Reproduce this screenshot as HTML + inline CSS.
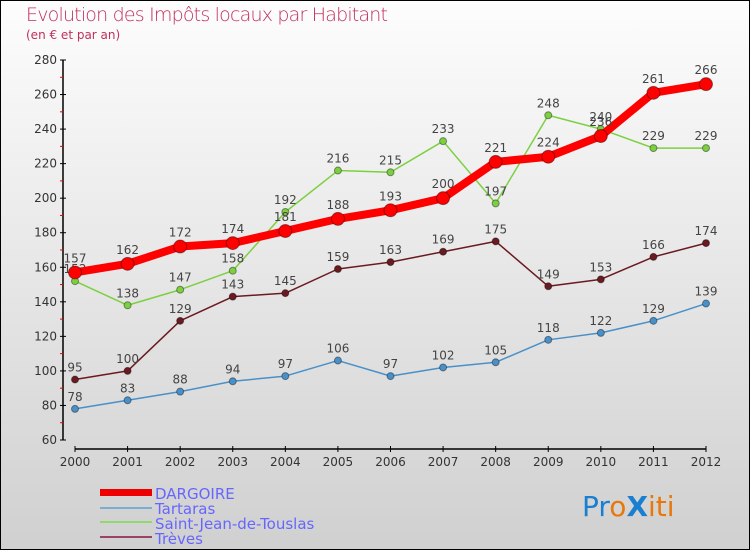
<!DOCTYPE html>
<html><head><meta charset="utf-8"><style>
body{margin:0}
#c{width:750px;height:550px;position:relative;background:linear-gradient(#fdfdfd,#d0d0d0);border:1px solid #000;box-sizing:border-box;overflow:hidden;font-family:"DejaVu Sans","Liberation Sans",sans-serif}
</style></head><body>
<div id="c">
<svg id="s" width="750" height="550" style="position:absolute;left:-1px;top:-1px">
<text x="26" y="21" font-size="19" fill="#c0305a" font-family="DejaVu Sans" font-weight="200" textLength="362">Evolution des Impôts locaux par Habitant</text>
<text x="26" y="39" font-size="12" fill="#c0305a">(en € et par an)</text>
<g id="g"></g>
<g>
<rect x="100" y="489" width="52" height="7" fill="#e00"/>
<text x="155" y="499" font-size="15" fill="#66f">DARGOIRE</text>
<rect x="100" y="507" width="52" height="2" fill="#7aaed0"/>
<text x="155" y="514" font-size="15" fill="#66f">Tartaras</text>
<rect x="100" y="521" width="52" height="2" fill="#90d870"/>
<text x="155" y="529" font-size="15" fill="#66f">Saint-Jean-de-Touslas</text>
<rect x="100" y="536" width="52" height="2" fill="#946"/>
<text x="155" y="544" font-size="15" fill="#66f">Trèves</text>
</g>
<g font-size="28" font-family="DejaVu Sans">
<text x="582" y="516"><tspan fill="#1a7fd0">Pr</tspan><tspan fill="#e8780a">o</tspan><tspan fill="#1a7fd0" font-weight="bold">X</tspan><tspan fill="#e8780a">iti</tspan></text>
</g>
</svg>
</div>
<script>
const years=[2000,2001,2002,2003,2004,2005,2006,2007,2008,2009,2010,2011,2012];
const dargoire=[157,162,172,174,181,188,193,200,221,224,236,261,266];
const tartaras=[78,83,88,94,97,106,97,102,105,118,122,129,139];
const saintJean=[152,138,147,158,192,216,215,233,197,248,240,229,229];
const treves=[95,100,129,143,145,159,163,169,175,149,153,166,174];
const yTicks=[60,80,100,120,140,160,180,200,220,240,260,280];
const NS="http://www.w3.org/2000/svg";
const g=document.getElementById('g');
const X=i=>75+i*(706-75)/(years.length-1);
const Y=v=>440-(v-60)*380/220;
function el(t,a,name){const e=document.createElementNS(NS,t);for(const k in a)e.setAttribute(k,a[k]);


g.appendChild(e);return e;}
el('line',{x1:63,y1:60,x2:63,y2:440,stroke:'#000','stroke-width':1.5},'y-axis');
el('line',{x1:75,y1:449,x2:706,y2:449,stroke:'#000','stroke-width':1.5},'x-axis');
yTicks.forEach(v=>{el('line',{x1:60,y1:Y(v),x2:66,y2:Y(v),stroke:'#000'},'y-tick');
const t=el('text',{x:57,y:Y(v)+4,'text-anchor':'end','font-size':12,fill:'#333'},'y-tick-label');t.textContent=v;
if(v<280)el('line',{x1:60,y1:Y(v+10),x2:63,y2:Y(v+10),stroke:'#e00'},'y-minor-tick');});
years.forEach((y,i)=>{el('line',{x1:X(i),y1:446,x2:X(i),y2:452,stroke:'#000'},'x-tick');
const t=el('text',{x:X(i),y:466,'text-anchor':'middle','font-size':12,fill:'#333'},'x-tick-label');t.textContent=y;});
function series(d,col,w,r,name,dy){
el('polyline',{points:d.map((v,i)=>X(i)+','+Y(v)).join(' '),fill:'none',stroke:col,'stroke-width':w,'stroke-linejoin':'round'},name+'-line');
d.forEach((v,i)=>{el('circle',{cx:X(i),cy:Y(v),r:r,fill:col,stroke:'rgba(0,0,0,0.4)','stroke-width':1},name+'-point');
const t=el('text',{x:X(i),y:Y(v)-dy,'text-anchor':'middle','font-size':12,fill:'#444'},name+'-value-label');t.textContent=v;});}
series(tartaras,'#4a90c8',1.5,3.5,'tartaras',8);
series(saintJean,'#7cd040',1.5,3.5,'saint-jean',8);
series(treves,'#6a1a20',1.5,3.5,'treves',8);
series(dargoire,'#f00',8,6.5,'dargoire',10);
</script>
</body></html>
